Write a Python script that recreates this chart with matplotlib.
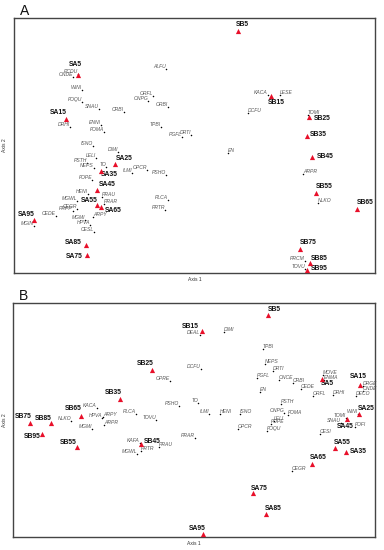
import matplotlib
matplotlib.use("Agg")
import matplotlib.pyplot as plt

# ---------------- Panel A data (Axis 1, Axis 2 scores) ----------------
a_sites = ["SA5", "SA15", "SA25", "SA35", "SA45", "SA55", "SA65", "SA75", "SA85", "SA95",
           "SB5", "SB15", "SB25", "SB35", "SB45", "SB55", "SB65", "SB75", "SB85", "SB95"]
a_site_x = [0.64, 0.52, 1.01, 0.87, 0.83, 0.83, 0.87, 0.73, 0.72, 0.20,
            2.24, 2.57, 2.95, 2.93, 2.98, 3.02, 3.43, 2.86, 2.96, 2.93]
a_site_y = [1.98, 1.54, 1.09, 1.02, 0.83, 0.68, 0.66, 0.18, 0.28, 0.53,
            2.42, 1.77, 1.56, 1.37, 1.16, 0.80, 0.64, 0.24, 0.10, 0.03]

a_species = ["ALFU", "PCDU", "ONDE", "WINI", "FOQU", "SNAU", "CRBI", "ORFL", "ONPG", "ORBI",
             "DRHI", "ENNI", "FOMA", "TPBI", "DRTI", "PGFL", "ISNO", "DIMI", "LELI", "PSTH",
             "TO", "NEPS", "ILMI", "OPCR", "PSHO", "FOPE", "HENI", "PRAU", "MGWL", "PRAR",
             "CEGR", "PRPP", "CEDE", "MGIN", "MGMI", "ARPY", "HPVA", "CESL", "PLCA", "PRTR",
             "KACA", "LESE", "DCFU", "TOMI", "EN", "ARPR", "NLKO", "PRCM", "TOVU"]
a_sp_x = [1.52, 0.64, 0.59, 0.68, 0.68, 0.85, 1.10, 1.39, 1.34, 1.54,
          0.56, 0.87, 0.90, 1.47, 1.77, 1.68, 0.79, 1.04, 0.82, 0.73,
          0.92, 0.80, 1.18, 1.33, 1.52, 0.78, 0.74, 0.88, 0.63, 0.90,
          0.63, 0.59, 0.42, 0.20, 0.71, 0.79, 0.76, 0.80, 1.54, 1.51,
          2.54, 2.66, 2.34, 2.94, 2.14, 2.89, 3.04, 2.91, 2.91]
a_sp_y = [2.04, 1.99, 1.96, 1.83, 1.71, 1.64, 1.61, 1.77, 1.72, 1.66,
          1.46, 1.48, 1.41, 1.46, 1.38, 1.36, 1.27, 1.21, 1.15, 1.10,
          1.06, 1.05, 1.00, 1.03, 0.98, 0.93, 0.79, 0.76, 0.72, 0.69,
          0.64, 0.62, 0.57, 0.47, 0.53, 0.56, 0.48, 0.41, 0.73, 0.63,
          1.78, 1.78, 1.60, 1.58, 1.20, 0.99, 0.70, 0.12, 0.04]
a_right_labels = {"PRAU", "PRAR", "ARPY", "LESE", "DCFU", "TOMI", "EN", "ARPR", "NLKO"}

# ---------------- Panel B data ----------------
b_sites = ["SB5", "SB15", "SB25", "SB35", "SB45", "SB55", "SB65", "SB75", "SB85", "SB95",
           "SA5", "SA15", "SA25", "SA35", "SA45", "SA55", "SA65", "SA75", "SA85", "SA95"]
b_site_x = [2.55, 1.89, 1.39, 1.07, 1.28, 0.64, 0.68, 0.17, 0.38, 0.29,
            3.09, 3.47, 3.46, 3.33, 3.34, 3.22, 2.99, 2.40, 2.53, 1.90]
b_site_y = [2.22, 2.06, 1.67, 1.38, 0.93, 0.90, 1.21, 1.14, 1.14, 1.03,
            1.58, 1.52, 1.23, 0.85, 1.18, 0.89, 0.73, 0.44, 0.23, 0.03]

b_species = ["DEAL", "DIMI", "TPBI", "NEPS", "DRTI", "PGFL", "ONCE", "CRBI", "CEDE", "EN",
             "ORFL", "DRHI", "MOVE", "ENMA", "DRGE", "ONDE", "DECO", "PSTH", "ILMI", "HENI",
             "ISNO", "ONPG", "FOMA", "LELI", "FOPE", "FOQU", "OPCR", "WINI", "TOMI", "SNAU",
             "FOFI", "CESI", "CEGR", "OPRE", "DCFU", "PSHO", "TO", "PLCA", "TOVU", "ARPY",
             "ARPR", "HPVA", "KACA", "NLKO", "MGMI", "KAFA", "PRTR", "PRAU", "MGWL", "PRAR"]
b_sp_x = [1.87, 2.11, 2.50, 2.52, 2.60, 2.44, 2.66, 2.80, 2.88, 2.47,
          3.00, 3.20, 3.10, 3.11, 3.50, 3.50, 3.43, 2.68, 1.96, 2.07,
          2.27, 2.71, 2.75, 2.61, 2.58, 2.54, 2.25, 3.45, 3.33, 3.28,
          3.42, 3.07, 2.79, 1.57, 1.88, 1.66, 1.85, 1.23, 1.43, 0.90,
          0.91, 0.89, 0.84, 0.58, 0.79, 1.27, 1.28, 1.46, 1.24, 1.82]
b_sp_y = [2.02, 2.05, 1.88, 1.73, 1.66, 1.59, 1.57, 1.54, 1.48, 1.45,
          1.41, 1.42, 1.62, 1.57, 1.51, 1.46, 1.41, 1.33, 1.23, 1.23,
          1.23, 1.24, 1.22, 1.16, 1.13, 1.06, 1.08, 1.23, 1.19, 1.14,
          1.10, 1.03, 0.66, 1.56, 1.68, 1.31, 1.34, 1.23, 1.17, 1.20,
          1.12, 1.19, 1.29, 1.16, 1.08, 0.94, 0.86, 0.90, 0.83, 0.99]
b_right_labels = {"DIMI", "TPBI", "NEPS", "DRTI", "PGFL", "ONCE", "CRBI", "CEDE", "EN", "ORFL",
                  "DRHI", "MOVE", "ENMA", "DRGE", "ONDE", "DECO", "PSTH", "HENI", "ISNO", "FOMA",
                  "LELI", "FOPE", "FOQU", "OPCR", "FOFI", "CESI", "CEGR", "ARPY", "ARPR",
                  "PRTR", "PRAU"}

# ---------------- Label placements (pixel offsets of site labels) ----------------
a_site_off = {"SA5": (-3, 11), "SA15": (-8, 6), "SA25": (9, 5), "SA35": (8, -4), "SA45": (10, 5),
              "SA55": (-8, 4), "SA65": (12, -4), "SA75": (-13, -2), "SA85": (-13, 2), "SA95": (-8, 6),
              "SB5": (4, 7), "SB15": (5, -7), "SB25": (13, -2), "SB35": (11, 1), "SB45": (13, 0),
              "SB55": (8, 6), "SB65": (8, 7), "SB75": (8, 6), "SB85": (9, 4), "SB95": (12, 2)}
b_site_off = {"SB5": (6, 5), "SB15": (-12, 4), "SB25": (-7, 6), "SB35": (-7, 6), "SB45": (11, 2),
              "SB55": (-9, 4), "SB65": (-8, 7), "SB75": (-7, 6), "SB85": (-8, 5), "SB95": (-10, -3),
              "SA5": (5, -5), "SA15": (-2, 8), "SA25": (7, 6), "SA35": (12, 0), "SA45": (-2, -7),
              "SA55": (7, 5), "SA65": (6, 6), "SA75": (6, 5), "SA85": (7, 6), "SA95": (-6, 6)}

RED = "#e8102a"
SP_COL = "#555555"

fig = plt.figure(figsize=(3.84, 5.5), dpi=100)


def draw_panel(rect, letter, xlim, ylim, sx, sy, snames, soff, px, py, pnames, right_set):
    ax = fig.add_axes(rect)
    ax.set_xlim(*xlim)
    ax.set_ylim(*ylim)
    ax.set_xticks([])
    ax.set_yticks([])
    for s in ax.spines.values():
        s.set_color("#444444")
        s.set_linewidth(1.0)
    # species
    ax.scatter(px, py, s=1.2, color="black", zorder=3, linewidths=0)
    for n, x, y in zip(pnames, px, py):
        if n in right_set:
            ax.annotate(n, (x, y), xytext=(0, 0), textcoords="offset pixels",
                        ha="left", va="bottom", fontsize=3.6, style="italic",
                        color=SP_COL, family="Liberation Sans")
        else:
            ax.annotate(n, (x, y), xytext=(0, 0), textcoords="offset pixels",
                        ha="right", va="bottom", fontsize=3.6, style="italic",
                        color=SP_COL, family="Liberation Sans")
    # sites
    ax.scatter(sx, sy, marker="^", s=14, color=RED, zorder=4, linewidths=0)
    for n, x, y in zip(snames, sx, sy):
        dx, dy = soff[n]
        ax.annotate(n, (x, y), xytext=(dx, dy), textcoords="offset pixels",
                    ha="center", va="center", fontsize=4.9, fontweight="bold",
                    color="#111111", family="Liberation Sans")
    # axis titles
    l, b, w, h = rect
    fig.text(l + w / 2, b - 0.012, "Axis 1", ha="center", va="center",
             fontsize=3.6, family="Liberation Sans", color="#333333")
    fig.text(0.013, b + h / 2, "Axis 2", ha="center", va="center", rotation=90,
             fontsize=3.6, family="Liberation Sans", color="#333333")
    fig.text(l - 0.005 + 0.02, b + h + 0.013, letter, ha="left", va="center",
             fontsize=10, family="Liberation Sans", color="#111111")
    return ax


draw_panel([14 / 384, 1 - 273 / 550, 361 / 384, 255 / 550], "A", (0, 3.61), (0, 2.55),
           a_site_x, a_site_y, a_sites, a_site_off, a_sp_x, a_sp_y, a_species, a_right_labels)
draw_panel([13 / 384, 1 - 537 / 550, 362 / 384, 234 / 550], "B", (0, 3.62), (0, 2.34),
           b_site_x, b_site_y, b_sites, b_site_off, b_sp_x, b_sp_y, b_species, b_right_labels)

fig.savefig("out.png", dpi=100)
